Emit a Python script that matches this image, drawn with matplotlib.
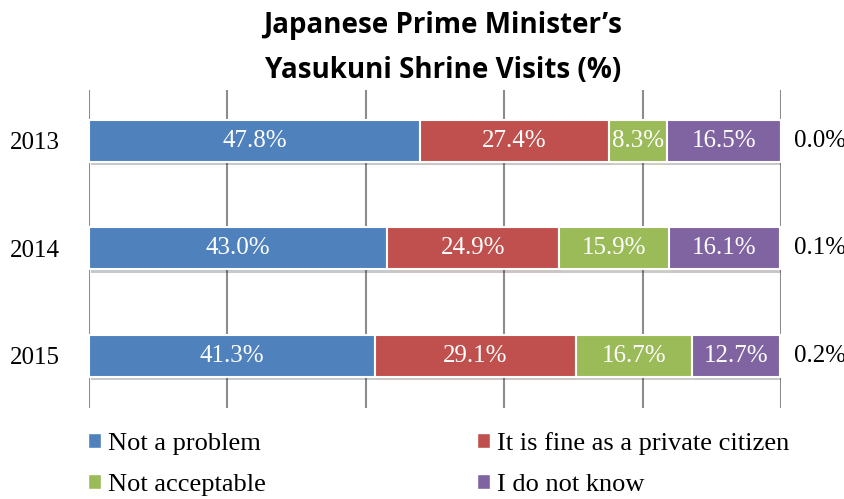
import matplotlib.pyplot as plt
import matplotlib.patheffects as pe
from matplotlib.patches import Patch

# data
years = ["2013", "2014", "2015"]
categories = ["Not a problem", "It is fine as a private citizen",
              "Not acceptable", "I do not know", "No answer"]
not_problem = [47.8, 43.0, 41.3]
fine_private = [27.4, 24.9, 29.1]
not_acceptable = [8.3, 15.9, 16.7]
do_not_know = [16.5, 16.1, 12.7]
no_answer = [0.0, 0.1, 0.2]
colors = ["#4F81BD", "#C0504D", "#9BBB59", "#8064A2", "#4BACC6"]

series = [not_problem, fine_private, not_acceptable, do_not_know, no_answer]

serif = "Liberation Serif"

fig = plt.figure(figsize=(8.45, 4.99), dpi=100)
ax = fig.add_axes([0.1053, 0.1824, 0.819, 0.6373])

y = list(range(len(years)))
left = [0.0] * len(years)
shadow = [pe.SimplePatchShadow(offset=(1.5, -2.5), alpha=0.25), pe.Normal()]
for i, vals in enumerate(series):
    bars = ax.barh(y, vals, left=left, height=0.39, color=colors[i],
                   edgecolor="white", linewidth=1.5, zorder=3)
    for b in bars:
        b.set_path_effects(shadow)
    for j, v in enumerate(vals):
        if i < 4:
            ax.text(left[j] + v / 2, y[j], "%.1f%%" % v, ha="center", va="center",
                    color="white", fontsize=18, family=serif, zorder=4)
        else:
            ax.annotate("%.1f%%" % v, (left[j] + v, y[j]), xytext=(9, 0),
                        textcoords="offset points", ha="left", va="center",
                        color="black", fontsize=18, family=serif)
    left = [l + v for l, v in zip(left, vals)]

ax.set_xlim(0, 100)
ax.set_ylim(2.484, -0.474)
ax.set_xticks(range(0, 101, 20))
ax.xaxis.grid(True, color="#8c8c8c", linewidth=1.5, zorder=0)
ax.tick_params(axis="x", length=0, labelbottom=False)
ax.set_yticks(y)
ax.set_yticklabels(years, family=serif, fontsize=18)
ax.tick_params(axis="y", length=0, pad=21)
for s in ax.spines.values():
    s.set_visible(False)

fig.text(443 / 845, 0.978, "Japanese Prime Minister\u2019s\nYasukuni Shrine Visits (%)",
         ha="center", va="top", fontsize=20, fontweight="bold",
         family="Open Sans", linespacing=1.75)

handles = [Patch(facecolor=colors[k], edgecolor="white") for k in [0, 2, 1, 3]]
labels = [categories[k] for k in [0, 2, 1, 3]]
leg = fig.legend(handles, labels, ncol=2, loc="upper left",
                 bbox_to_anchor=(88 / 845, 1 - 432 / 499), frameon=False,
                 prop={"family": serif, "size": 19}, handlelength=0.5,
                 handleheight=0.5, handletextpad=0.25, columnspacing=8.0,
                 labelspacing=0.72, borderpad=0, borderaxespad=0)

fig.savefig("out.png", dpi=100)
